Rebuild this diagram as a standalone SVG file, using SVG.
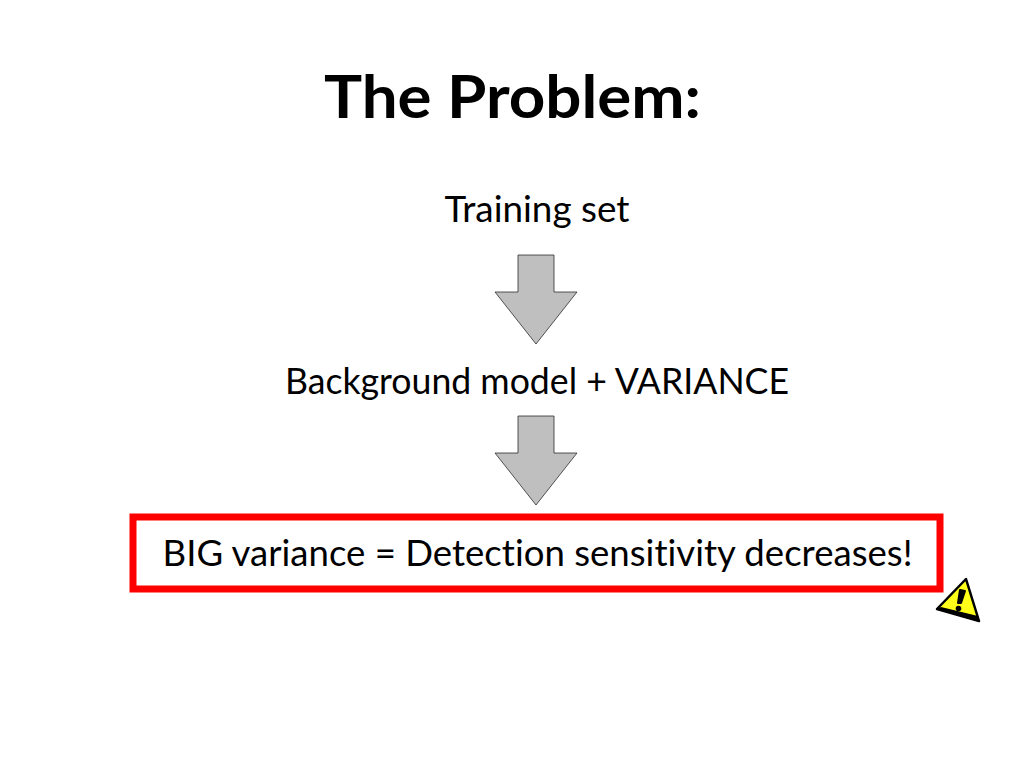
<svg xmlns="http://www.w3.org/2000/svg" width="1024" height="768" viewBox="0 0 1024 768">
<style>
text{font-family:Lato,"Liberation Sans",sans-serif;fill:#000;font-variant-ligatures:none}
.b{font-size:36px;text-anchor:middle}
.a{fill:#bfbfbf;stroke:#222;stroke-width:.75}
</style>
<rect width="1024" height="768" fill="#fff"/>
<text x="512.5" y="118" text-anchor="middle" font-size="60" font-weight="700" textLength="377" lengthAdjust="spacingAndGlyphs">The Problem:</text>
<g id="n1"><text class="b" x="537" y="222" textLength="185" lengthAdjust="spacingAndGlyphs">Training set</text></g>
<g id="n2"><text class="b" x="537" y="394" textLength="504" lengthAdjust="spacingAndGlyphs">Background model + VARIANCE</text></g>
<g id="n3"><rect x="133" y="517" width="807" height="72" fill="none" stroke="#f00" stroke-width="7"/><text class="b" x="537.5" y="566" textLength="750" lengthAdjust="spacingAndGlyphs">BIG variance = Detection sensitivity decreases!</text></g>
<g id="connectors">
<path class="a" d="M518 255H554V292H577L536 344L495 292H518Z"/>
<path class="a" d="M518 416H554V453H577L536 505L495 453H518Z"/>
</g>
<g id="warning">
<path d="M966 579L979 621L937 609Z" fill="#ffff1a" stroke="#000" stroke-width="2.5" stroke-linejoin="round"/>
<path d="M937 609L979 621L978 616L941 607Z" fill="#000"/>
<path d="M960 590L965 591L961 603L958 603Z" fill="#000" stroke="#000" stroke-width="2" stroke-linejoin="round"/>
<circle cx="958.500" cy="608.500" r="2.800" fill="#000"/>
</g>
</svg>
